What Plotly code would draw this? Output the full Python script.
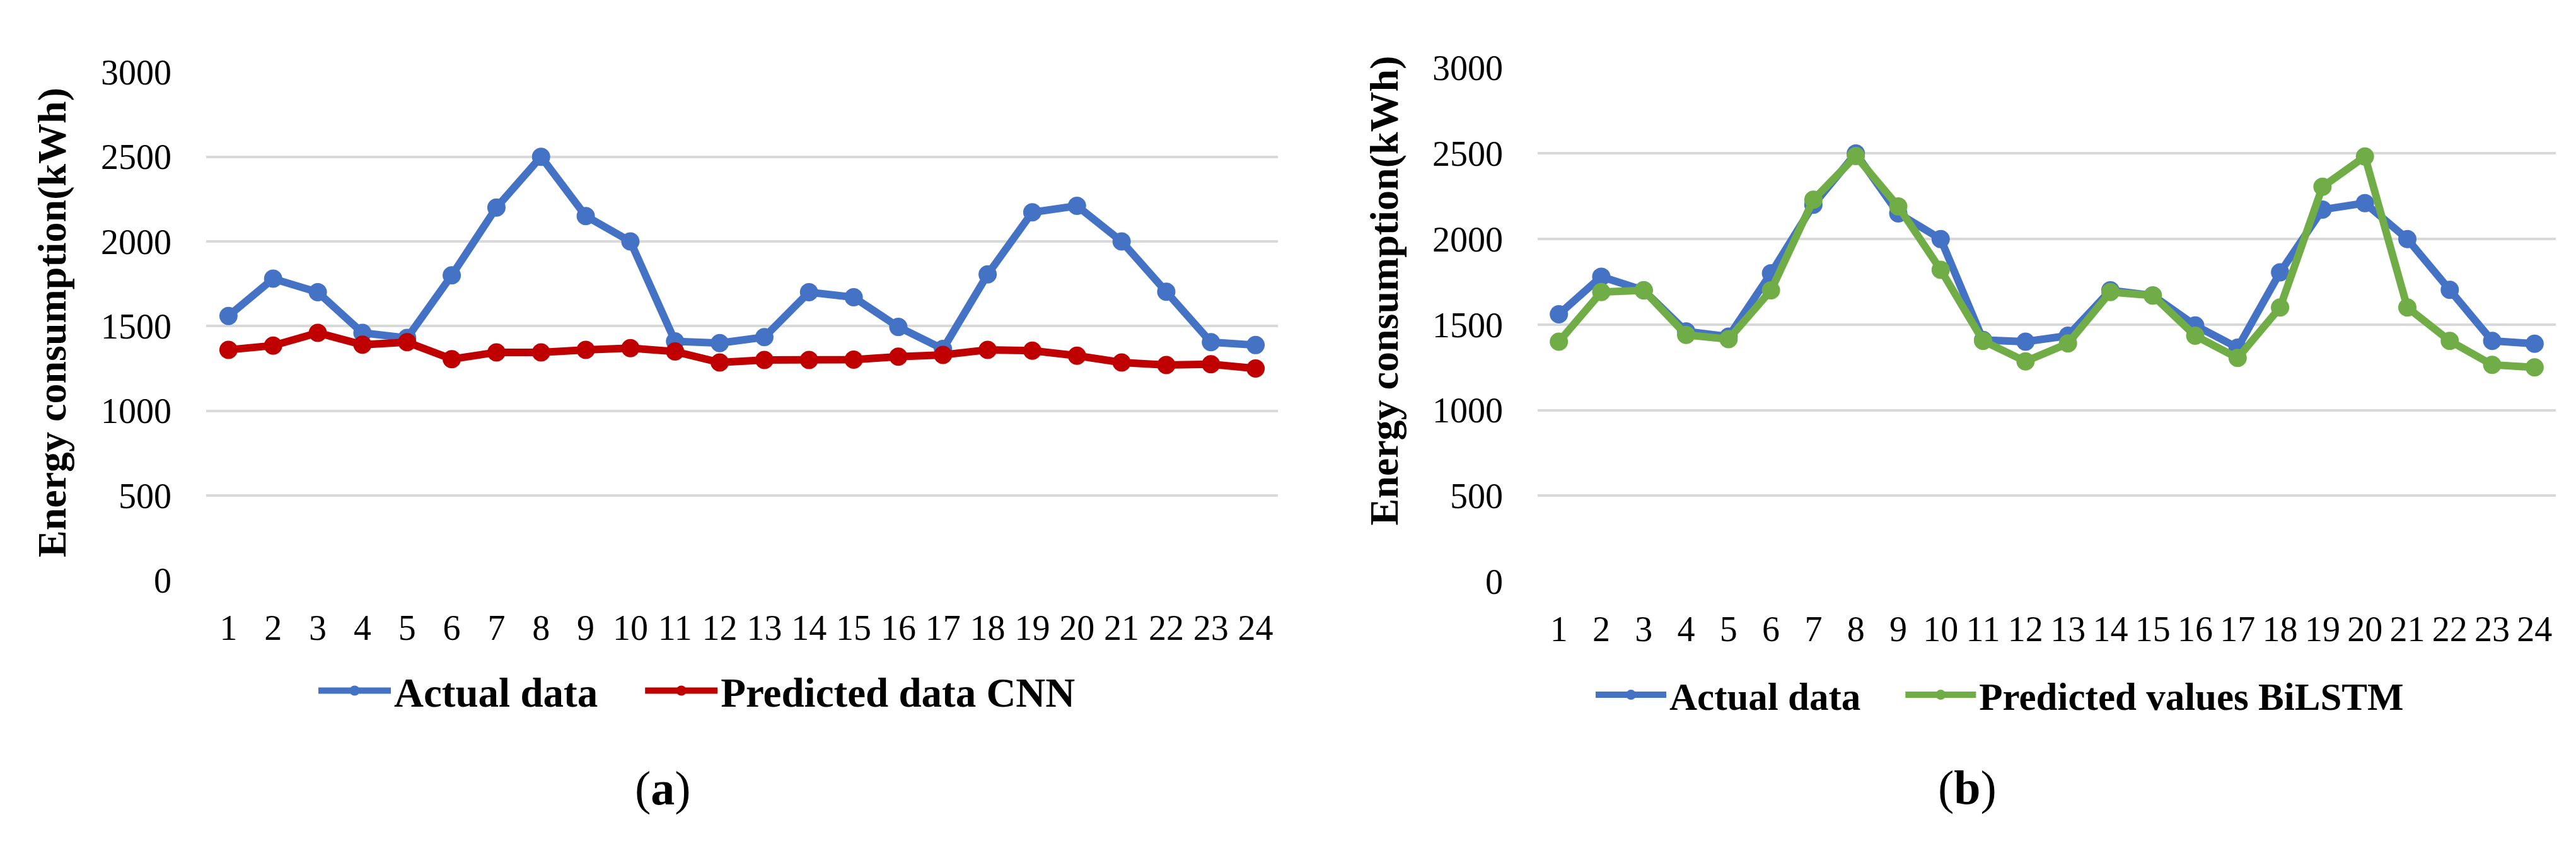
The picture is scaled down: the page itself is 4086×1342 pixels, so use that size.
import plotly.graph_objects as go

hours = list(range(1, 25))
actual = [1560, 1780, 1700, 1460, 1430, 1800, 2200, 2500, 2150, 2000, 1410, 1400,
          1435, 1700, 1670, 1495, 1365, 1805, 2172, 2210, 2000, 1703, 1405, 1388]
cnn = [1360, 1385, 1460, 1390, 1405, 1305, 1345, 1345, 1360, 1370, 1350, 1285,
       1300, 1300, 1302, 1320, 1330, 1360, 1355, 1325, 1285, 1270, 1275, 1250]
bilstm = [1400, 1690, 1700, 1440, 1415, 1700, 2230, 2485, 2190, 1820, 1405, 1285,
          1390, 1690, 1670, 1435, 1305, 1600, 2305, 2482, 1600, 1405, 1265, 1250]
y_ticks = [0, 500, 1000, 1500, 2000, 2500, 3000]
y_title = "Energy consumption(kWh)"

BLUE = "#4472C4"
RED = "#C00000"
GREEN = "#70AD47"
W, H = 4086, 1342
FONT = "Liberation Serif"
NBSP = "\u00a0"

fig = go.Figure()

def add(x, y, name, color, xa, ya, legend):
    fig.add_trace(go.Scatter(
        x=x, y=y, name=name, mode="lines+markers",
        line=dict(color=color, width=12),
        marker=dict(color=color, size=29),
        xaxis=xa, yaxis=ya, legend=legend))

add(hours, actual, "Actual data" + NBSP * 4, BLUE, "x", "y", "legend")
add(hours, cnn, "Predicted data CNN", RED, "x", "y", "legend")
add(hours, actual, "Actual data" + NBSP * 4, BLUE, "x2", "y2", "legend2")
add(hours, bilstm, "Predicted values BiLSTM", GREEN, "x2", "y2", "legend2")

xcommon = dict(range=[0.5, 24.5], tickvals=hours, ticktext=[str(h) for h in hours],
               showgrid=False, zeroline=False, showline=False, ticks="",
               tickfont=dict(family=FONT, size=56, color="black"),
               ticklabelstandoff=38, fixedrange=True)
ycommon = dict(range=[0, 3000], tickvals=y_ticks, showgrid=True,
               gridcolor="#D9D9D9", gridwidth=4, zeroline=False, showline=False,
               ticks="", tickfont=dict(family=FONT, size=56, color="black"),
               ticklabelstandoff=54, fixedrange=True)

fig.update_layout(
    width=W, height=H,
    margin=dict(l=0, r=0, t=0, b=0),
    paper_bgcolor="white", plot_bgcolor="white",
    xaxis=dict(domain=[319 / W, 2019 / W], anchor="y", **xcommon),
    yaxis=dict(domain=[1 - 925 / H, 1 - 80 / H], anchor="x", **ycommon),
    xaxis2=dict(domain=[2431 / W, 4046 / W], anchor="y2", **xcommon),
    yaxis2=dict(domain=[1 - 927 / H, 1 - 73 / H], anchor="x2", **ycommon),
    legend=dict(orientation="h", x=492 / W, xanchor="left",
                y=1 - 1109 / H, yanchor="middle",
                font=dict(family=FONT, size=65, color="black", weight="bold"),
                itemwidth=115, bgcolor="rgba(0,0,0,0)"),
    legend2=dict(orientation="h", x=2518 / W, xanchor="left",
                 y=1 - 1116 / H, yanchor="middle",
                 font=dict(family=FONT, size=61, color="black", weight="bold"),
                 itemwidth=112, bgcolor="rgba(0,0,0,0)"),
    showlegend=True,
)

title_font = dict(family=FONT, size=64, color="black", weight="bold")
fig.add_annotation(text=y_title, xref="paper", yref="paper", x=74 / W, y=1 - 497 / H,
                   textangle=-90, showarrow=False, xanchor="center", yanchor="middle",
                   font=title_font)
fig.add_annotation(text=y_title, xref="paper", yref="paper", x=2187 / W, y=1 - 444 / H,
                   textangle=-90, showarrow=False, xanchor="center", yanchor="middle",
                   font=title_font)
fig.add_annotation(text="(<b>a</b>)", xref="paper", yref="paper", x=1043 / W, y=1 - 1271 / H,
                   showarrow=False, xanchor="center", yanchor="middle",
                   font=dict(family=FONT, size=76, color="black"))
fig.add_annotation(text="(<b>b</b>)", xref="paper", yref="paper", x=3112 / W, y=1 - 1270 / H,
                   showarrow=False, xanchor="center", yanchor="middle",
                   font=dict(family=FONT, size=76, color="black"))

fig.write_html("out.html")
